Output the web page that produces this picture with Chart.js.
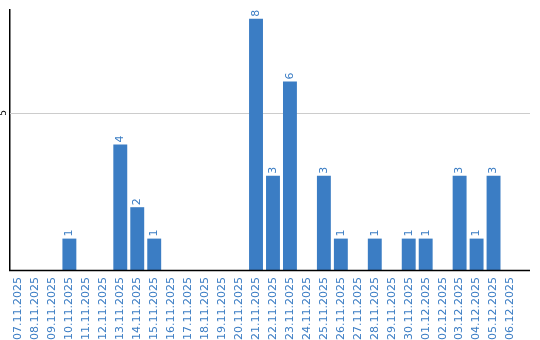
<!DOCTYPE html>
<html>
<head>
<meta charset="UTF-8">
<script src="https://cdn.jsdelivr.net/npm/chart.js"></script>
<style>
  html, body { margin: 0; padding: 0; background: #fff; overflow: hidden; }
  #wrap { width: 540px; height: 340px; }
</style>
</head>
<body>
<div id="wrap"><canvas id="chart" width="540" height="340"></canvas></div>
<script>
const days = ['07.11.2025','08.11.2025','09.11.2025','10.11.2025','11.11.2025','12.11.2025',
  '13.11.2025','14.11.2025','15.11.2025','16.11.2025','17.11.2025','18.11.2025','19.11.2025',
  '20.11.2025','21.11.2025','22.11.2025','23.11.2025','24.11.2025','25.11.2025','26.11.2025',
  '27.11.2025','28.11.2025','29.11.2025','30.11.2025','01.12.2025','02.12.2025','03.12.2025',
  '04.12.2025','05.12.2025','06.12.2025'];
const counts = [0,0,0,1,0,0,4,2,1,0,0,0,0,0,8,3,6,0,3,1,0,1,0,1,1,0,3,1,3,0];
const yTicks = [5];
const yMax = 8.28;

const blue = '#3b7dc4';
const font = "'DejaVu Sans', sans-serif";
const axisEnd = 530;

// gridline + x axis line reaching past the last category
const axes = {
  id: 'axes',
  beforeDatasetsDraw(chart) {
    const ctx = chart.ctx;
    const a = chart.chartArea;
    const ys = chart.scales.y;
    ctx.save();
    ctx.strokeStyle = '#cccccc';
    ctx.lineWidth = 1;
    yTicks.forEach(v => {
      const py = Math.round(ys.getPixelForValue(v)) + 0.5;
      ctx.beginPath();
      ctx.moveTo(a.left, py);
      ctx.lineTo(axisEnd, py);
      ctx.stroke();
    });
    ctx.restore();
  },
  afterDatasetsDraw(chart) {
    const ctx = chart.ctx;
    const a = chart.chartArea;
    const ys = chart.scales.y;
    ctx.save();
    ctx.strokeStyle = '#000';
    ctx.lineWidth = 1.5;
    ctx.beginPath();
    ctx.moveTo(a.left - 1, a.bottom + 0.5);
    ctx.lineTo(axisEnd, a.bottom + 0.5);
    ctx.stroke();

    // y tick labels, rotated
    ctx.font = '9px ' + font;
    ctx.fillStyle = '#000';
    ctx.textAlign = 'center';
    ctx.textBaseline = 'middle';
    yTicks.forEach(v => {
      ctx.save();
      ctx.translate(4, ys.getPixelForValue(v));
      ctx.rotate(-Math.PI / 2);
      ctx.fillText(String(v), 0, 0);
      ctx.restore();
    });

    // value labels above bars
    const meta = chart.getDatasetMeta(0);
    ctx.font = '11px ' + font;
    ctx.fillStyle = blue;
    ctx.textAlign = 'left';
    meta.data.forEach((bar, i) => {
      if (!counts[i]) return;
      ctx.save();
      ctx.translate(bar.x, bar.y - 2);
      ctx.rotate(-Math.PI / 2);
      ctx.fillText(String(counts[i]), 0, 0);
      ctx.restore();
    });
    ctx.restore();
  }
};

new Chart(document.getElementById('chart'), {
  type: 'bar',
  data: {
    labels: days,
    datasets: [{
      data: counts,
      backgroundColor: blue,
      categoryPercentage: 1,
      barPercentage: 0.82
    }]
  },
  options: {
    responsive: false,
    animation: false,
    layout: { padding: { top: 10, right: 21, left: 0, bottom: 0 } },
    plugins: { legend: { display: false }, tooltip: { enabled: false } },
    scales: {
      x: {
        grid: { display: false, drawTicks: false },
        border: { display: false },
        ticks: {
          color: blue,
          font: { family: font, size: 11 },
          minRotation: 90,
          maxRotation: 90,
          autoSkip: false,
          padding: 7
        },
        afterFit(scale) { scale.height = 70; }
      },
      y: {
        min: 0,
        max: yMax,
        afterBuildTicks(scale) { scale.ticks = yTicks.map(v => ({ value: v })); },
        grid: { display: false, drawTicks: false },
        border: { color: '#000', width: 1.5 },
        ticks: { display: false },
        afterFit(scale) { scale.width = 10; }
      }
    }
  },
  plugins: [axes]
});
</script>
</body>
</html>
